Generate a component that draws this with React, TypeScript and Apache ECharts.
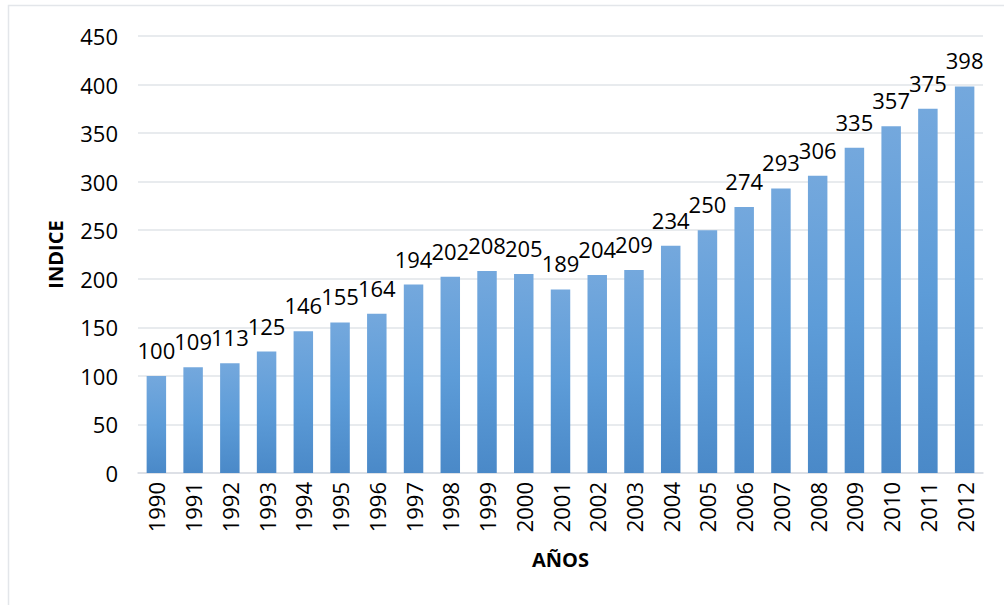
import React, { useEffect, useRef } from "react";
import * as echarts from "echarts";

const years = ["1990","1991","1992","1993","1994","1995","1996","1997","1998","1999","2000","2001","2002","2003","2004","2005","2006","2007","2008","2009","2010","2011","2012"];
const indice = [100,109,113,125,146,155,164,194,202,208,205,189,204,209,234,250,274,293,306,335,357,375,398];
const yTicks = { min: 0, max: 450, interval: 50 };

const FONT = "Open Sans";

export default function App() {
  const ref = useRef<HTMLDivElement>(null);
  useEffect(() => {
    if (!ref.current) return;
    const chart = echarts.init(ref.current, null, { renderer: "svg" });
    chart.setOption({
      animation: false,
      backgroundColor: "#ffffff",
      textStyle: { fontFamily: FONT },
      graphic: [
        {
          type: "rect",
          shape: { x: 8.5, y: 5.5, width: 1100, height: 700 },
          style: { fill: "none", stroke: "#e3e6ea", lineWidth: 1.5 },
          silent: true,
          z: -1,
        },
      ],
      grid: { left: 138, right: 21, top: 36, bottom: 132 },
      xAxis: {
        type: "category",
        data: years,
        name: "AÑOS",
        nameLocation: "middle",
        nameGap: 76,
        nameTextStyle: { fontFamily: FONT, fontSize: 20, fontWeight: "bold", color: "#000" },
        axisLine: { lineStyle: { color: "#d9dde3", width: 1.5 } },
        axisTick: { show: false },
        axisLabel: { rotate: 90, margin: 9, fontSize: 22, color: "#000", fontFamily: FONT },
      },
      yAxis: {
        type: "value",
        min: yTicks.min,
        max: yTicks.max,
        interval: yTicks.interval,
        name: "INDICE",
        nameLocation: "middle",
        nameGap: 73,
        nameRotate: 90,
        nameTextStyle: { fontFamily: FONT, fontSize: 20, fontWeight: "bold", color: "#000" },
        axisLine: { show: false },
        axisTick: { show: false },
        splitLine: { lineStyle: { color: "#e1e4e8", width: 1.5 } },
        axisLabel: { margin: 20, fontSize: 22, color: "#000", fontFamily: FONT },
      },
      series: [
        {
          type: "bar",
          data: indice,
          barWidth: "53%",
          itemStyle: {
            color: new echarts.graphic.LinearGradient(0, 0, 0, 1, [
              { offset: 0, color: "#74a8dd" },
              { offset: 0.5, color: "#5d9cd8" },
              { offset: 1, color: "#4a89c8" },
            ]),
          },
          label: {
            show: true,
            position: "top",
            distance: 15,
            fontSize: 22,
            color: "#000",
            fontFamily: FONT,
          },
        },
      ],
    });
    return () => chart.dispose();
  }, []);
  return (
    <div
      ref={ref}
      style={{ position: "fixed", left: 0, top: 0, width: 1004, height: 605 }}
    />
  );
}
